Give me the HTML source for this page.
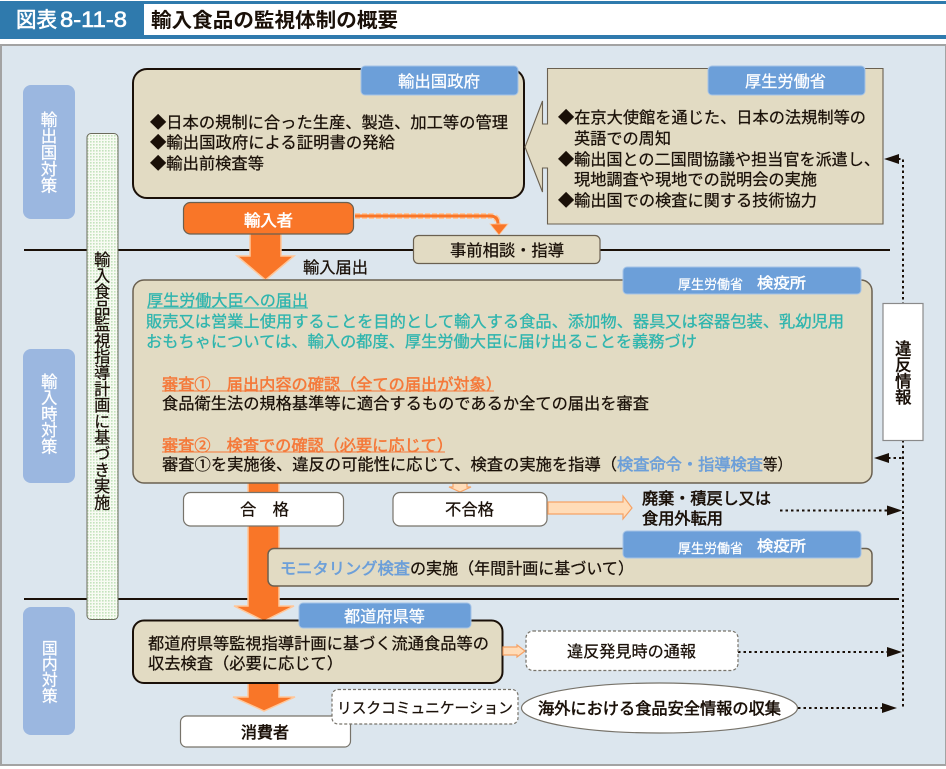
<!DOCTYPE html>
<html lang="ja"><head><meta charset="utf-8"><title>図表8-11-8</title>
<style>
html,body{margin:0;padding:0;background:#fff}
#w{position:relative;width:946px;height:769px;overflow:hidden}
svg{position:absolute;left:0;top:0}
text{font-family:"Liberation Sans","Noto Sans CJK JP",sans-serif;font-size:16px;fill:#1a1008;stroke:#1a1008;stroke-width:.25}
.w{fill:#fff;stroke:#fff}.b{stroke-width:.55}.t{fill:#2fb5ae;stroke:#2fb5ae;stroke-width:.3}.o{fill:#f5793a;stroke:#f5793a;stroke-width:.5}.l{fill:#6c9fd9;stroke:#6c9fd9;stroke-width:.55}
.tag{fill:#6c9fd9;stroke:#a5c3e6;stroke-width:1}
.box{fill:#e2dbc3;stroke:#6a6050;stroke-width:1.5}
.dk{fill:#e2dbc3;stroke:#1a1008;stroke-width:2}
.wb{fill:#fff;stroke:#77736a;stroke-width:1.2}
.dash{fill:#fff;stroke:#77736a;stroke-width:1.2;stroke-dasharray:3 2}
.dot{fill:none;stroke:#1a1008;stroke-width:2;stroke-dasharray:2.5 3}
.or{fill:#f97628;stroke:#ffc79a;stroke-width:1.5}
.pe{fill:#ffdcb8;stroke:#f6a265;stroke-width:1.2}
.tab{fill:#9bb7e0}
.v{position:absolute;writing-mode:vertical-rl;font-family:"Liberation Sans","Noto Sans CJK JP",sans-serif;line-height:1;white-space:nowrap}
</style></head><body><div id="w">
<svg width="946" height="769" viewBox="0 0 946 769" xmlns="http://www.w3.org/2000/svg">
<defs><pattern id="dots" width="3" height="3" patternUnits="userSpaceOnUse"><rect width="3" height="3" fill="#f8fbf3"/><rect width="1.6" height="1.6" fill="#c4e3bd"/></pattern></defs>

<!-- header -->
<rect x="0" y="1" width="946" height="38" fill="#2f7aad"/>
<rect x="144" y="4" width="802" height="31" fill="#fff"/>
<text class="w" x="16" y="27" style="font-size:21px;stroke-width:.6" textLength="41" lengthAdjust="spacingAndGlyphs">図表</text>
<text class="w" x="60" y="27" style="font-size:22px;stroke-width:.6" textLength="67" lengthAdjust="spacingAndGlyphs">8-11-8</text>
<text x="151" y="27" style="font-size:20px;font-weight:bold;stroke-width:0" textLength="247" lengthAdjust="spacingAndGlyphs">輸入食品の監視体制の概要</text>

<!-- panel -->
<rect x="1" y="45" width="945" height="720" fill="#dce6ee" stroke="#a3a3a3" stroke-width="2"/>

<!-- section dividers -->
<line x1="24" y1="250" x2="890" y2="250" stroke="#1a1008" stroke-width="2"/>
<line x1="24" y1="599" x2="899" y2="599" stroke="#1a1008" stroke-width="2"/>

<!-- left tabs -->
<rect class="tab" x="23" y="85" width="52" height="134" rx="8"/>
<rect class="tab" x="23" y="349" width="52" height="134" rx="8"/>
<rect class="tab" x="23" y="607" width="52" height="128" rx="8"/>

<!-- vertical bar -->
<rect x="87" y="133.500" width="31" height="486" rx="4" fill="url(#dots)" stroke="#6a6a5a" stroke-width="1"/>

<!-- dotted violation line -->
<path class="dot" d="M898 159H903V708"/>
<path class="dot" d="M888 458H903"/>
<path class="dot" d="M780 510.500H888"/>
<path class="dot" d="M738 652H888"/>
<path class="dot" d="M798 708H884"/>
<path d="M884 159L899 154V164Z" fill="#1a1008"/>
<path d="M874 458L889 453V463Z" fill="#1a1008"/>
<path d="M902 510.500L887 505.500V515.500Z" fill="#1a1008"/>
<path d="M902 652L887 647V657Z" fill="#1a1008"/>
<path d="M897 708L882 703V713Z" fill="#1a1008"/>

<!-- violation box -->
<rect x="883" y="303.500" width="40" height="137" fill="#fff" stroke="#8a8a8a" stroke-width="1.200"/>

<!-- exporter govt box -->
<rect class="dk" x="133" y="69" width="391" height="129" rx="14"/>
<rect class="tag" x="361" y="66" width="157" height="29" rx="4"/>
<text class="w" x="398" y="87" textLength="82" lengthAdjust="spacingAndGlyphs">輸出国政府</text>
<text x="150" y="128" textLength="358" lengthAdjust="spacingAndGlyphs">◆日本の規制に合った生産、製造、加工等の管理</text>
<text x="150" y="148" textLength="245" lengthAdjust="spacingAndGlyphs">◆輸出国政府による証明書の発給</text>
<text x="150" y="169" textLength="114" lengthAdjust="spacingAndGlyphs">◆輸出前検査等</text>

<!-- MHLW callout -->
<path d="M547.500 68.500H883V224H547.500V168H542.500V192L525 147L542.500 101V124H547.500Z" fill="#e2dbc3" stroke="#6a6050" stroke-width="1.100"/>
<rect class="tag" x="708" y="66" width="157" height="29" rx="4"/>
<text class="w" x="745" y="87" textLength="81" lengthAdjust="spacingAndGlyphs">厚生労働省</text>
<text x="558" y="123" textLength="308" lengthAdjust="spacingAndGlyphs">◆在京大使館を通じた、日本の法規制等の</text>
<text x="574" y="144" textLength="97" lengthAdjust="spacingAndGlyphs">英語での周知</text>
<text x="558" y="165" textLength="322" lengthAdjust="spacingAndGlyphs">◆輸出国との二国間協議や担当官を派遣し、</text>
<text x="574" y="185" textLength="243" lengthAdjust="spacingAndGlyphs">現地調査や現地での説明会の実施</text>
<text x="558" y="206" textLength="259" lengthAdjust="spacingAndGlyphs">◆輸出国での検査に関する技術協力</text>

<!-- importer -->
<path class="or" d="M250 233H281V256H294L265.500 280L237 256H250Z"/>
<rect x="183.500" y="202.500" width="170" height="31.500" rx="7" fill="#f97628" stroke="#6a6050" stroke-width="1.200"/>
<text class="w b" x="244" y="226" textLength="49" lengthAdjust="spacingAndGlyphs">輸入者</text>
<path d="M355 216H490Q498 216 498 224V229" fill="none" stroke="#ffc79a" stroke-width="6" stroke-dasharray="5 2"/>
<path d="M355 216H490Q498 216 498 224V229" fill="none" stroke="#f97628" stroke-width="3"/>
<path d="M490 224H508L499 235Z" fill="#f97628" stroke="#ffc79a" stroke-width=".8"/>
<rect class="box" x="413.500" y="235.500" width="186.500" height="28" rx="5" style="stroke-width:1.200"/>
<text x="450" y="256" textLength="114" lengthAdjust="spacingAndGlyphs">事前相談・指導</text>
<text x="303" y="273" textLength="65" lengthAdjust="spacingAndGlyphs">輸入届出</text>

<!-- lower arrows behind boxes -->
<path class="or" d="M248 482H279V606H294L264 621L234 606H248Z"/>
<path class="or" d="M248 683H279V697H295L264 711L233 697H248Z"/>
<path class="pe" d="M453 483H467V487H471L460 492L449 487H453Z"/>

<!-- main inspection box -->
<rect class="box" x="133" y="280" width="739" height="203" rx="11"/>
<rect class="tag" x="623" y="267" width="238" height="27" rx="4"/>
<text class="w" x="678" y="289" style="font-size:13px" textLength="65" lengthAdjust="spacingAndGlyphs">厚生労働省</text>
<text class="w" x="757" y="288" style="font-size:15px;stroke-width:.4" textLength="49" lengthAdjust="spacingAndGlyphs">検疫所</text>

<text class="t" x="147" y="306" textLength="161" lengthAdjust="spacingAndGlyphs">厚生労働大臣への届出</text>
<line x1="147" y1="308" x2="308" y2="308" stroke="#2fb5ae" stroke-width="1"/>
<text class="t" x="146" y="327" textLength="698" lengthAdjust="spacingAndGlyphs">販売又は営業上使用することを目的として輸入する食品、添加物、器具又は容器包装、乳幼児用</text>
<text class="t" x="146" y="347" textLength="551" lengthAdjust="spacingAndGlyphs">おもちゃについては、輸入の都度、厚生労働大臣に届け出ることを義務づけ</text>

<text class="o" x="162" y="390" textLength="340" lengthAdjust="spacingAndGlyphs">審査①　届出内容の確認（全ての届出が対象）</text>
<line x1="162" y1="391" x2="494" y2="391" stroke="#f5793a" stroke-width="1"/>
<text x="162" y="409" textLength="487" lengthAdjust="spacingAndGlyphs">食品衛生法の規格基準等に適合するものであるか全ての届出を審査</text>
<text class="o" x="162" y="451" textLength="291" lengthAdjust="spacingAndGlyphs">審査②　検査での確認（必要に応じて）</text>
<line x1="162" y1="452" x2="445" y2="452" stroke="#f5793a" stroke-width="1"/>
<text x="162" y="470" textLength="455" lengthAdjust="spacingAndGlyphs">審査①を実施後、違反の可能性に応じて、検査の実施を指導（</text>
<text class="l" x="617" y="470" textLength="146" lengthAdjust="spacingAndGlyphs">検査命令・指導検査</text>
<text x="763" y="470" textLength="29" lengthAdjust="spacingAndGlyphs">等）</text>

<!-- pass / fail -->
<rect class="wb" x="183.500" y="492.500" width="160" height="33.500" rx="7"/>
<text x="240" y="515" textLength="49" lengthAdjust="spacingAndGlyphs">合　格</text>
<rect class="wb" x="393" y="492.500" width="154" height="33.500" rx="7"/>
<text x="445" y="515" textLength="49" lengthAdjust="spacingAndGlyphs">不合格</text>
<path class="pe" d="M548 502H623V496L632 508L623 519V514H548Z"/>
<text class="b" x="642" y="504" textLength="129" lengthAdjust="spacingAndGlyphs">廃棄・積戻し又は</text>
<text class="b" x="642" y="524" textLength="81" lengthAdjust="spacingAndGlyphs">食用外転用</text>

<!-- monitoring -->
<rect class="box" x="268" y="548.500" width="604" height="37.500" rx="6"/>
<rect class="tag" x="623" y="531" width="238" height="27" rx="4"/>
<text class="w" x="678" y="553" style="font-size:13px" textLength="65" lengthAdjust="spacingAndGlyphs">厚生労働省</text>
<text class="w" x="757" y="551" style="font-size:15px;stroke-width:.4" textLength="49" lengthAdjust="spacingAndGlyphs">検疫所</text>
<text class="l" x="280" y="574" textLength="130" lengthAdjust="spacingAndGlyphs">モニタリング検査</text>
<text x="410" y="574" textLength="224" lengthAdjust="spacingAndGlyphs">の実施（年間計画に基づいて）</text>

<!-- prefectures -->
<rect class="dk" x="133" y="620.500" width="369.500" height="62.500" rx="11"/>
<rect class="tag" x="299" y="603" width="172" height="25" rx="4"/>
<text class="w" x="344" y="622" textLength="81" lengthAdjust="spacingAndGlyphs">都道府県等</text>
<text x="148" y="649" textLength="341" lengthAdjust="spacingAndGlyphs">都道府県等監視指導計画に基づく流通食品等の</text>
<text x="148" y="669" textLength="195" lengthAdjust="spacingAndGlyphs">収去検査（必要に応じて）</text>
<path class="pe" d="M503 647H517V645L525 651L517 657V655H503Z"/>
<rect class="dash" x="526" y="631" width="212" height="39.500" rx="7"/>
<text x="567" y="657" textLength="129" lengthAdjust="spacingAndGlyphs">違反発見時の通報</text>

<!-- consumer / risk / overseas -->
<rect class="wb" x="180.500" y="716" width="170" height="31" rx="6"/>
<text class="b" x="241" y="738" textLength="48" lengthAdjust="spacingAndGlyphs">消費者</text>
<rect class="dash" x="332" y="689.500" width="186" height="34.500" rx="6"/>
<text x="337" y="713" style="font-size:15px" textLength="176" lengthAdjust="spacingAndGlyphs">リスクコミュニケーション</text>
<ellipse cx="659.500" cy="708" rx="138" ry="25" fill="#fff" stroke="#77736a" stroke-width="1.200"/>
<text class="b" x="538" y="714" textLength="243" lengthAdjust="spacingAndGlyphs">海外における食品安全情報の収集</text>
</svg>

<div class="v" style="left:38.500px;top:111px;color:#fff;font-size:16.500px;-webkit-text-stroke:.25px #fff">輸出国対策</div>
<div class="v" style="left:39px;top:373px;color:#fff;font-size:16.300px;-webkit-text-stroke:.25px #fff">輸入時対策</div>
<div class="v" style="left:39.500px;top:640px;color:#fff;font-size:15.800px;-webkit-text-stroke:.25px #fff">国内対策</div>
<div class="v" style="left:92px;top:251px;color:#1a1008;font-size:16.200px;-webkit-text-stroke:.25px #1a1008">輸入食品監視指導計画に基づき実施</div>
<div class="v" style="left:893px;top:340px;color:#1a1008;font-size:16.300px;-webkit-text-stroke:.55px #1a1008">違反情報</div>
</div></body></html>
